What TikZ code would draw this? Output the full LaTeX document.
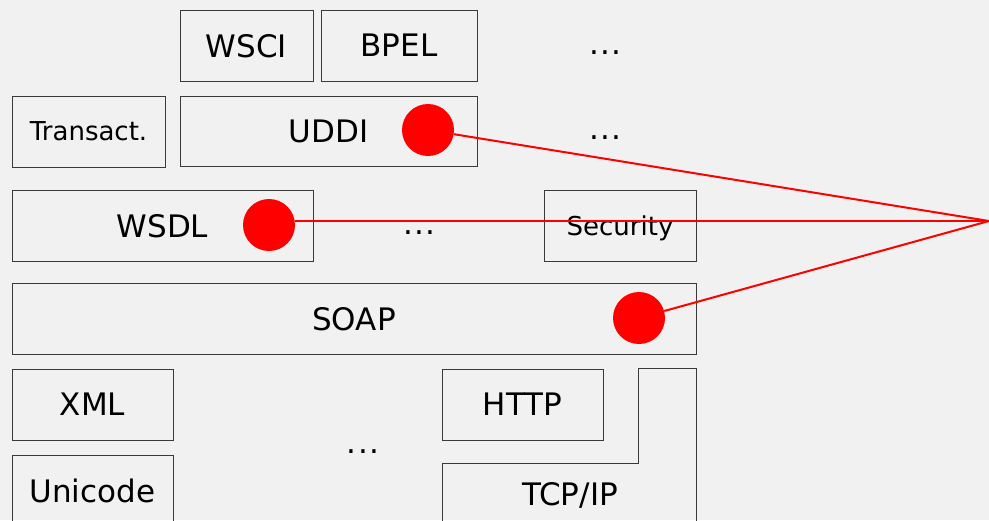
\documentclass[tikz,border=0pt]{standalone}
\usepackage{fontspec}
\setmainfont{DejaVu Sans}
\definecolor{bgray}{HTML}{F1F1F1}
\definecolor{edge}{HTML}{3A3A3A}
\newcommand{\gapdots}{.\hspace{1.4pt}.\hspace{1.4pt}.}
\begin{document}
\begin{tikzpicture}
        [
            x=1pt, y=-1pt,
            layer/.style={rectangle, draw=edge, line width=1pt, inner sep=0pt, text depth=0pt, font=\fontsize{31}{36}\selectfont},
            small/.style={layer, font=\fontsize{26}{30}\selectfont},
            more/.style={anchor=base, inner sep=0pt, font=\fontsize{31}{36}\selectfont},
            hit/.style={circle, fill=red, inner sep=0pt, minimum size=52pt},
            link/.style={red, line width=2pt}
        ]
        \fill[bgray] (0,0) rectangle (989,520);
        \useasboundingbox (0,0) rectangle (989,520);
        % top row
        \node[layer, minimum width=133pt, minimum height=71pt] (wsci) at (246.5,45.5) {WSCI};
        \node[layer, minimum width=156pt, minimum height=71pt] (bpel) at (399,45.5) {BPEL};
        \node[more] (dotsa) at (605.5,54) {\gapdots};
        % UDDI
        \node[small, minimum width=153pt, minimum height=71pt] (trans) at (88.5,131.5) {Transact.};
        \node[layer, minimum width=297pt, minimum height=70pt] (uddi) at (328.5,131) {UDDI};
        \node[more] (dotsb) at (605.5,139) {\gapdots};
        % WSDL
        \node[layer, minimum width=301pt, minimum height=71pt] (wsdl) at (162.5,225.5) {WSDL};
        \node[more] (dotsc) at (419.5,234) {\gapdots};
        \node[small, minimum width=152pt, minimum height=71pt] (sec) at (620,225.5) {Security};
        % SOAP
        \node[layer, minimum width=684pt, minimum height=71pt] (soap) at (354,318.5) {SOAP};
        % bottom
        \node[layer, minimum width=161pt, minimum height=71pt] (xml) at (92.5,404.5) {XML};
        \node[layer, minimum width=161pt, minimum height=71pt] (uni) at (92.5,490.5) {Unicode};
        \node[layer, minimum width=161pt, minimum height=71pt] (http) at (522.5,404.5) {HTTP};
        \node[more] (dotsd) at (363,453) {\gapdots};
        \draw[draw=edge, line width=1pt] (442,530) -- (442,463) -- (638,463) -- (638,368) -- (696,368) -- (696,530);
        \node[font=\fontsize{31}{36}\selectfont] (tcp) at (570,495) {TCP/IP};
        % red links
        \coordinate (hub) at (989,221);
        \node[hit] (hu) at (428,130) {};
        \node[hit] (hw) at (269,225) {};
        \node[hit] (hs) at (639,318) {};
        \draw[link] (hu) -- (hub);
        \draw[link] (hw.east |- hub) -- (hub);
        \draw[link] (hs) -- (hub);
\end{tikzpicture}
\end{document}
